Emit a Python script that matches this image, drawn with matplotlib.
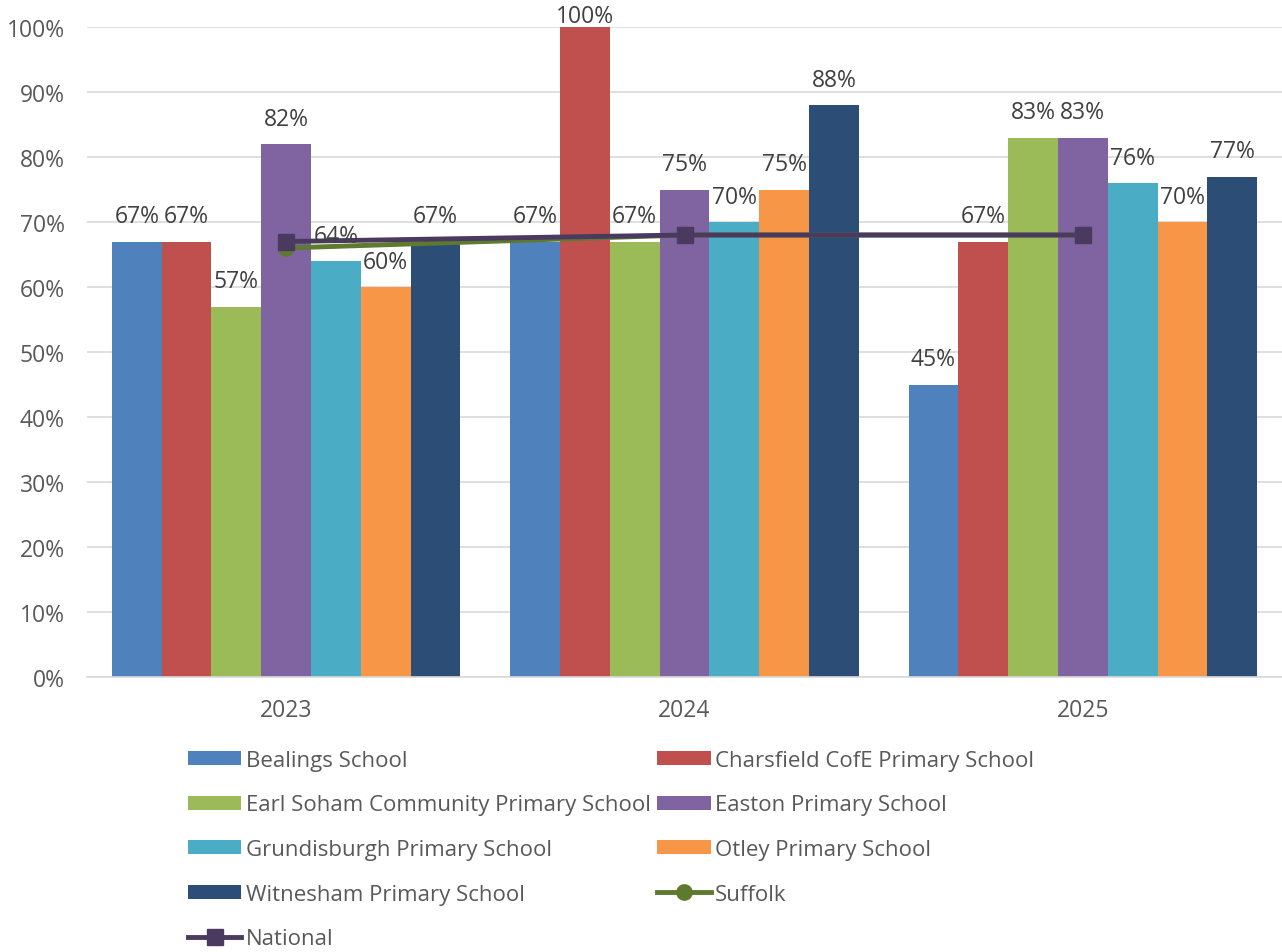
import numpy as np
import matplotlib
matplotlib.use("Agg")
import matplotlib.pyplot as plt

plt.rcParams['font.family'] = ['Open Sans', 'DejaVu Sans']

years = ['2023', '2024', '2025']
schools = ['Bealings School', 'Charsfield CofE Primary School',
           'Earl Soham Community Primary School', 'Easton Primary School',
           'Grundisburgh Primary School', 'Otley Primary School',
           'Witnesham Primary School']
bealings = [67, 67, 45]
charsfield = [67, 100, 67]
earl_soham = [57, 67, 83]
easton = [82, 75, 83]
grundisburgh = [64, 70, 76]
otley = [60, 75, 70]
witnesham = [67, 88, 77]
suffolk = [66, 68, 68]
national = [67, 68, 68]

school_values = [bealings, charsfield, earl_soham, easton, grundisburgh, otley, witnesham]
colors = ['#4F81BD', '#C0504D', '#9BBB59', '#8064A2', '#4BACC6', '#F79646', '#2C4D75']

fig = plt.figure(figsize=(12.82, 9.53), dpi=100)
ax = fig.add_axes([87/1282, 1-678/953, (1282-87)/1282, 650/953])

x = np.arange(len(years))
w = 0.125
handles = []
for i, (name, vals, c) in enumerate(zip(schools, school_values, colors)):
    pos = x + (i - 3) * w
    b = ax.bar(pos, vals, w, color=c, label=name, zorder=2)
    handles.append(b)
    for p, v in zip(pos, vals):
        # labels sit outside the bar end, kept inside the top of the plot area
        ax.text(p, min(v + 2.0, 99.9), f'{v}%', ha='center', va='bottom',
                fontsize=16.5, color='#404040', zorder=5, clip_on=False)

l_suf, = ax.plot(x, suffolk, color='#5E7A2E', lw=3.5, marker='o', ms=11,
                 label='Suffolk', zorder=3)
l_nat, = ax.plot(x, national, color='#4B3A60', lw=3.5, marker='s', ms=12,
                 label='National', zorder=4)

ax.set_xlim(-0.5, 2.5)
ax.set_ylim(0, 100)
ax.set_yticks(range(0, 101, 10))
ax.set_yticklabels([f'{t}%' for t in range(0, 101, 10)])
ax.set_xticks(x)
ax.set_xticklabels(years)
ax.tick_params(axis='both', length=0, labelsize=16.5, labelcolor='#595959')
ax.tick_params(axis='x', pad=15)
ax.tick_params(axis='y', pad=16)
ax.grid(axis='y', color='#D9D9D9', lw=1.2, zorder=0)
ax.set_axisbelow(True)
for s in ['top', 'right', 'left']:
    ax.spines[s].set_visible(False)
ax.spines['bottom'].set_color('#D9D9D9')
ax.spines['bottom'].set_linewidth(1.2)

order = [handles[0], handles[2], handles[4], handles[6], l_nat,
         handles[1], handles[3], handles[5], l_suf]
fig.legend(order, [h.get_label() for h in order], ncol=2,
           loc='upper left', bbox_to_anchor=(179/1282, 1-742/953),
           frameon=False, fontsize=16, labelcolor='#595959',
           handlelength=2.4, handleheight=0.6, handletextpad=0.2,
           columnspacing=0.3, labelspacing=1.06, borderaxespad=0)

fig.savefig('out.png', dpi=100)
